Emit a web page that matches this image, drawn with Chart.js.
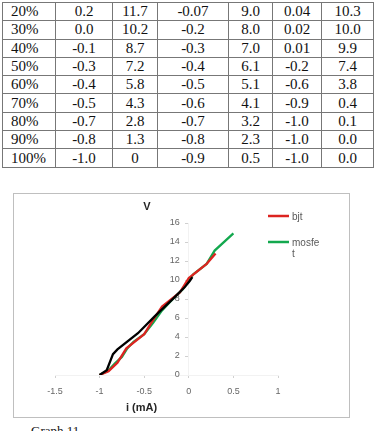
<!DOCTYPE html>
<html>
<head>
<meta charset="utf-8">
<script src="https://cdn.jsdelivr.net/npm/chart.js@4.4.0/dist/chart.umd.min.js"></script>
<style>
    body { margin: 0; background: #fff; width: 374px; height: 431px; overflow: hidden; position: relative; font-family: "Liberation Serif", "Times New Roman", serif; }
    #table { position: absolute; left: 2px; top: 2px; width: 371px; border-collapse: collapse; table-layout: fixed; font-size: 15px; color: #111; }
    #table td { border: 1px solid #777; height: 17.3px; padding: 0; line-height: 17px; text-align: center; white-space: nowrap; }
    #table td:first-child { text-align: left; padding-left: 8px; }
    #box { position: absolute; left: 13px; top: 193px; width: 335px; height: 223px; border: 1px solid #bfbfbf; }
    #caption { position: absolute; left: 31px; top: 423px; font-size: 13px; color: #111; }
</style>
</head>
<body>
<table id="table">
    <colgroup>
        <col style="width:53px"><col style="width:57px"><col style="width:45px"><col style="width:71px">
        <col style="width:44px"><col style="width:49px"><col style="width:52px">
    </colgroup>
    <tbody id="tableBody"></tbody>
</table>
<div id="box"><canvas id="chartIV" width="335" height="223"></canvas></div>
<div id="caption">Graph 11.</div>

<script>
// Table values
const rowLabels = ["20%", "30%", "40%", "50%", "60%", "70%", "80%", "90%", "100%"];
const colBjtI = ["0.2", "0.0", "-0.1", "-0.3", "-0.4", "-0.5", "-0.7", "-0.8", "-1.0"];
const colBjtV = ["11.7", "10.2", "8.7", "7.2", "5.8", "4.3", "2.8", "1.3", "0"];
const colMosI = ["-0.07", "-0.2", "-0.3", "-0.4", "-0.5", "-0.6", "-0.7", "-0.8", "-0.9"];
const colMosV = ["9.0", "8.0", "7.0", "6.1", "5.1", "4.1", "3.2", "2.3", "0.5"];
const colThirdI = ["0.04", "0.02", "0.01", "-0.2", "-0.6", "-0.9", "-1.0", "-1.0", "-1.0"];
const colThirdV = ["10.3", "10.0", "9.9", "7.4", "3.8", "0.4", "0.1", "0.0", "0.0"];

// Chart series
const bjtI = [-1.0, -0.9, -0.8, -0.7, -0.5, -0.4, -0.3, -0.1, 0.0, 0.2, 0.3];
const bjtV = [0.0, 0.4, 1.3, 2.8, 4.3, 5.8, 7.2, 8.7, 10.2, 11.7, 12.8];
const mosI = [-1.0, -0.9, -0.83, -0.75, -0.69, -0.62, -0.5, -0.4, -0.3, -0.2, -0.07, 0.05, 0.2, 0.29, 0.5];
const mosV = [0.0, 0.5, 1.2, 1.9, 2.8, 3.5, 4.3, 5.5, 6.8, 7.8, 9.0, 10.6, 11.7, 13.1, 14.9];
const thirdI = [-1.0, -0.92, -0.85, -0.8, -0.57, -0.38, -0.19, -0.05, 0.01, 0.04];
const thirdV = [0.0, 0.5, 2.2, 2.7, 4.4, 6.2, 7.9, 9.2, 9.9, 10.3];

const seriesNames = ["bjt", "mosfet", ""];
const seriesColors = ["#dc2420", "#13a84e", "#000000"];

// Build the table
const tbody = document.getElementById('tableBody');
rowLabels.forEach((label, i) => {
    const tr = document.createElement('tr');
    [label, colBjtI[i], colBjtV[i], colMosI[i], colMosV[i], colThirdI[i], colThirdV[i]].forEach(v => {
        const td = document.createElement('td');
        td.textContent = v;
        tr.appendChild(td);
    });
    tbody.appendChild(tr);
});

function toPoints(xs, ys) {
    return xs.map((x, i) => ({ x: x, y: ys[i] }));
}

// Axis titles and the Excel-style legend
const extras = {
    id: 'extras',
    afterDraw(chart) {
        const { ctx, chartArea, scales } = chart;
        ctx.save();
        ctx.fillStyle = '#262626';
        ctx.font = 'bold 11px "Liberation Sans", sans-serif';
        ctx.textAlign = 'center';
        ctx.textBaseline = 'middle';
        ctx.fillText('V', scales.x.getPixelForValue(-0.47), chartArea.top - 16);
        ctx.fillText('i (mA)', scales.x.getPixelForValue(-0.53), chartArea.bottom + 33);

        ctx.font = '10px "Liberation Sans", sans-serif';
        ctx.textAlign = 'left';
        ctx.fillStyle = '#595959';
        let y = chartArea.top - 7;
        chart.data.datasets.forEach(ds => {
            if (!ds.label) return;
            ctx.strokeStyle = ds.borderColor;
            ctx.lineWidth = 2.5;
            ctx.beginPath();
            ctx.moveTo(chartArea.right - 10, y);
            ctx.lineTo(chartArea.right + 11, y);
            ctx.stroke();
            // wrap text into the narrow legend column
            const lines = [];
            let cur = '';
            for (const ch of ds.label) {
                if (ctx.measureText(cur + ch).width > 30 && cur) { lines.push(cur); cur = ch; }
                else cur += ch;
            }
            lines.push(cur);
            lines.forEach((ln, k) => ctx.fillText(ln, chartArea.right + 14, y + 1 + k * 11));
            y += 26;
        });
        ctx.restore();
    }
};

const datasets = [
    { label: seriesNames[0], data: toPoints(bjtI, bjtV), borderColor: seriesColors[0], order: 1 },
    { label: seriesNames[1], data: toPoints(mosI, mosV), borderColor: seriesColors[1], order: 2 },
    { label: seriesNames[2], data: toPoints(thirdI, thirdV), borderColor: seriesColors[2], order: 0 }
].map(d => Object.assign(d, {
    showLine: true,
    borderWidth: 2.3,
    pointRadius: 0,
    tension: 0,
    backgroundColor: d.borderColor
}));

const tickFont = { family: '"Liberation Sans", sans-serif', size: 9 };
const fmt = v => String(Math.round(v * 10) / 10);

new Chart(document.getElementById('chartIV'), {
    type: 'scatter',
    data: { datasets: datasets },
    options: {
        responsive: false,
        animation: false,
        layout: { padding: { left: 41, right: 71, top: 29, bottom: 22 } },
        plugins: { legend: { display: false }, tooltip: { enabled: false } },
        scales: {
            x: {
                type: 'linear',
                min: -1.5,
                max: 1,
                position: 'bottom',
                afterFit: scale => { scale.height = 20; },
                ticks: { stepSize: 0.5, color: '#666', font: tickFont, padding: 8, callback: fmt },
                grid: { drawOnChartArea: false, tickLength: 3, color: '#d0d0d0' },
                border: { color: '#f2f2f2' }
            },
            y: {
                type: 'linear',
                min: 0,
                max: 16,
                position: { x: 0 },
                afterFit: scale => { scale.width = 0; },
                // trailing em space keeps the labels clear of the axis
                ticks: { stepSize: 2, color: '#666', font: tickFont, padding: 8, callback: v => fmt(v) + '\u2003' },
                grid: { drawOnChartArea: false, tickLength: 3, color: '#d0d0d0' },
                border: { color: '#f2f2f2' }
            }
        }
    },
    plugins: [extras]
});
</script>
</body>
</html>
